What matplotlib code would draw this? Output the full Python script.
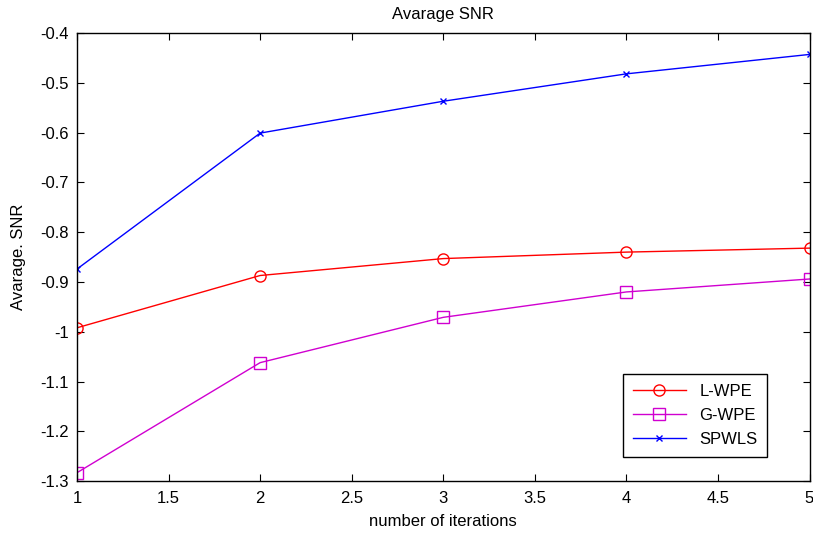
import matplotlib
matplotlib.use('Agg')
import matplotlib.pyplot as plt

plt.rcParams['font.family'] = ['Liberation Sans', 'DejaVu Sans']

iterations = [1, 2, 3, 4, 5]
l_wpe = [-0.992, -0.887, -0.853, -0.840, -0.832]
g_wpe = [-1.283, -1.062, -0.971, -0.920, -0.894]
spwls = [-0.874, -0.601, -0.537, -0.482, -0.443]

fig = plt.figure(figsize=(8.13, 5.37), dpi=100)
ax = fig.add_axes([0.0947, 0.104, 0.901, 0.8345])

ax.plot(iterations, l_wpe, '-o', color='red', lw=1, ms=8, mfc='none', mew=1, label='L-WPE')
ax.plot(iterations, g_wpe, '-s', color='#d000d0', lw=1, ms=8, mfc='none', mew=1, label='G-WPE')
ax.plot(iterations, spwls, '-x', color='blue', lw=1, ms=5, mew=1, label='SPWLS')

ax.set_xlim(1, 5)
ax.set_ylim(-1.3, -0.4)
ax.set_xticks([1, 1.5, 2, 2.5, 3, 3.5, 4, 4.5, 5])
ax.set_xticklabels(['1', '1.5', '2', '2.5', '3', '3.5', '4', '4.5', '5'])
ax.set_yticks([-1.3, -1.2, -1.1, -1, -0.9, -0.8, -0.7, -0.6, -0.5, -0.4])
ax.set_yticklabels(['-1.3', '-1.2', '-1.1', '-1', '-0.9', '-0.8', '-0.7', '-0.6', '-0.5', '-0.4'])
ax.tick_params(direction='in', top=True, right=True, labelsize=12, length=5)
ax.tick_params(axis='x', pad=7)
ax.tick_params(axis='y', pad=6)
for s in ax.spines.values():
    s.set_linewidth(1)

ax.set_title('Avarage SNR', fontsize=12, pad=10)
ax.set_xlabel('number of iterations', fontsize=12, labelpad=6)
ax.set_ylabel('Avarage. SNR', fontsize=12, labelpad=10)

leg = ax.legend(loc='lower right', bbox_to_anchor=(0.954, 0.035), fontsize=12,
                fancybox=False, edgecolor='black', framealpha=1,
                handlelength=3.2, borderpad=0.6, labelspacing=0.55)
leg.get_frame().set_linewidth(1)

fig.savefig('out.png', dpi=100)
